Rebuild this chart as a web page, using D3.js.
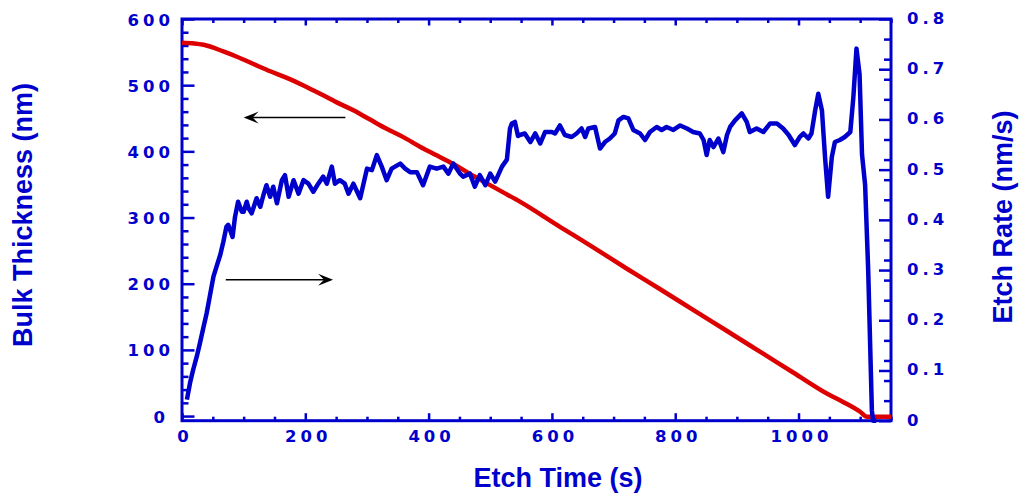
<!DOCTYPE html>
<html><head><meta charset="utf-8">
<script src="https://cdn.jsdelivr.net/npm/d3@7"></script>
<style>html,body{margin:0;padding:0;background:#fff;}svg{display:block;}</style>
</head><body>
<svg id="chart" width="1019" height="500"></svg>
<script>
// ---------- data ----------
const thicknessTime = [0,20,35,67,89,116,143,170,197,224,251,278,305,332,359,386,413,440,467,494,521,548,613,667,721,775,829,884,938,992,1046,1073,1100,1111,1150];
const thicknessNm   = [564,563,561,551,543,532,521,511,499.5,487,474,462,448,434,421.5,407,394,381,366,352,338,324,286,255,223,192,160.5,128.5,97,65.5,34,21,6.5,-1,-1];

const rateTime = [8,13,18,24,29,35,40,45,51,56,62,67,72,75,78,82,86,91,97,100,105,108,113,121,127,132,137,143,148,154,162,167,173,181,189,197,205,213,221,229,235,243,248,256,264,270,278,289,300,308,316,324,332,340,354,362,370,381,391,402,413,424,432,440,451,456,467,475,483,492,500,508,519,527,532,535,540,545,548,556,565,573,581,589,600,605,613,621,632,640,648,654,659,670,678,686,694,702,708,716,724,732,743,751,759,770,778,786,797,808,819,829,840,846,851,856,862,870,878,884,889,897,908,916,921,932,943,954,965,975,984,994,1002,1008,1016,1021,1027,1032,1038,1043,1048,1054,1059,1067,1075,1084,1089,1094,1099,1103,1108,1113,1119,1121,1126];
const rateNmS = [0.042,0.075,0.101,0.128,0.154,0.187,0.214,0.247,0.287,0.307,0.330,0.356,0.386,0.390,0.380,0.366,0.406,0.436,0.416,0.416,0.436,0.423,0.413,0.443,0.426,0.449,0.469,0.446,0.466,0.433,0.479,0.489,0.446,0.479,0.452,0.479,0.472,0.456,0.472,0.486,0.472,0.506,0.472,0.479,0.472,0.452,0.472,0.443,0.502,0.499,0.529,0.506,0.479,0.502,0.512,0.502,0.495,0.495,0.469,0.506,0.502,0.506,0.492,0.512,0.492,0.486,0.492,0.466,0.489,0.469,0.492,0.476,0.506,0.520,0.582,0.592,0.595,0.567,0.569,0.572,0.555,0.572,0.552,0.575,0.575,0.572,0.588,0.569,0.565,0.572,0.582,0.565,0.582,0.585,0.542,0.555,0.562,0.572,0.598,0.605,0.602,0.579,0.572,0.559,0.575,0.585,0.579,0.585,0.579,0.588,0.582,0.575,0.572,0.559,0.529,0.559,0.545,0.562,0.535,0.569,0.585,0.598,0.612,0.595,0.575,0.582,0.575,0.592,0.592,0.582,0.569,0.549,0.565,0.572,0.562,0.572,0.618,0.651,0.618,0.525,0.446,0.525,0.555,0.559,0.565,0.575,0.645,0.741,0.690,0.530,0.470,0.300,0.020,0.0,0.0];

const xTickLabels = ["0","200","400","600","800","1000"];
const yLeftTickLabels = ["0","100","200","300","400","500","600"];
const yRightTickLabels = ["0","0.1","0.2","0.3","0.4","0.5","0.6","0.7","0.8"];

// annotation arrows in (time, thickness) units: from -> to (arrowhead at "to")
const arrowFrom = [[265,451],[71,206]];
const arrowTo   = [[100,451],[245,206]];

// ---------- layout ----------
const BLUE = "#0000CC", RED = "#DD0000";
const L = 182, R = 891, T = 19, B = 420.7;
const svg = d3.select("#chart");

const x  = d3.scaleLinear().domain([0,1150]).range([L,R]);
const yL = d3.scaleLinear().domain([-7,600]).range([B,T]);
const yR = d3.scaleLinear().domain([0,0.8]).range([B,T]);

// ---------- ticks ----------
function axisTicks(axisGen, transform, size, vals){
  const g = svg.append("g").attr("transform",transform)
    .call(axisGen.tickValues(vals).tickSize(size).tickSizeOuter(0).tickFormat(""));
  g.select(".domain").remove();
  g.selectAll("line").attr("stroke",BLUE).attr("stroke-width",2.5);
}
const xMinor = d3.range(0,1151,50).filter(v=>v%200!==0);
const xMajor = d3.range(0,1151,200);
axisTicks(d3.axisBottom(x), `translate(0,${B})`, -4, xMinor);
axisTicks(d3.axisBottom(x), `translate(0,${B})`, -7.5, xMajor);
axisTicks(d3.axisTop(x), `translate(0,${T})`, -4, xMinor);
axisTicks(d3.axisTop(x), `translate(0,${T})`, -6.5, xMajor);
const yLMinor = d3.range(0,601,20).filter(v=>v%100!==0);
const yLMajor = d3.range(0,601,100);
axisTicks(d3.axisLeft(yL), `translate(${L},0)`, -6.5, yLMinor);
axisTicks(d3.axisLeft(yL), `translate(${L},0)`, -12.5, yLMajor);
const yRMinor = d3.range(0,41,2).filter(v=>v%5!==0).map(v=>v/50);
const yRMajor = d3.range(0,9).map(v=>v/10);
axisTicks(d3.axisRight(yR), `translate(${R},0)`, -7, yRMinor);
axisTicks(d3.axisRight(yR), `translate(${R},0)`, -12, yRMajor);

// ---------- frame ----------
svg.append("rect").attr("x",L).attr("y",T).attr("width",R-L).attr("height",B-T)
  .attr("fill","none").attr("stroke",BLUE).attr("stroke-width",3);

// ---------- tick labels (wide, letter-spaced bold digits) ----------
const FS = 16.5, LS = 4;
function labelWidth(s){
  let w = 0;
  for (const ch of s) w += (ch === "." ? 0.38 : 0.696)*FS + LS;
  return (w - LS);
}
function drawLabel(s, px, py, align){
  const w = labelWidth(s);
  const x0 = align==="end" ? px - w : align==="middle" ? px - w/2 : px;
  svg.append("text").attr("x",x0).attr("y",py)
    .attr("font-family","'DejaVu Sans', Verdana, sans-serif")
    .attr("font-weight","bold").attr("font-size",FS).attr("letter-spacing",LS)
    .attr("fill",BLUE).text(s);
}
yLeftTickLabels.forEach(s => drawLabel(s, s==="0" ? 165 : 170, yL(+s)+6.5, "end"));
xTickLabels.forEach(s => drawLabel(s, x(+s)+1, 442, "middle"));
yRightTickLabels.forEach(s => drawLabel(s, 907, yR(+s)+5, "start"));

// ---------- axis titles ----------
function title(txt, tr){
  svg.append("text").attr("transform",tr).attr("text-anchor","middle")
    .attr("font-family","'Liberation Sans', Arial, Helvetica, sans-serif")
    .attr("font-weight","bold").attr("font-size",27).attr("fill",BLUE).text(txt);
}
title("Etch Time (s)", `translate(558,487.3)`);
title("Bulk Thickness (nm)", `translate(31.7,215) rotate(-90)`);
title("Etch Rate (nm/s)", `translate(1011.7,217) rotate(-90)`);

// ---------- series ----------
const thick = thicknessTime.map((t,i)=>[t,thicknessNm[i]]);
const rate  = rateTime.map((t,i)=>[t,rateNmS[i]]);
svg.append("path").datum(thick)
  .attr("d", d3.line().curve(d3.curveMonotoneX).x(d=>x(d[0])).y(d=>yL(d[1])))
  .attr("fill","none").attr("stroke",RED).attr("stroke-width",4.5).attr("stroke-linejoin","round");
svg.append("path").datum(rate)
  .attr("d", d3.line().x(d=>x(d[0])).y(d=>yR(d[1])))
  .attr("fill","none").attr("stroke",BLUE).attr("stroke-width",4.5).attr("stroke-linejoin","round");

// ---------- arrows ----------
arrowFrom.forEach((f,i)=>{
  const t = arrowTo[i];
  const x1 = x(f[0]), y1 = yL(f[1]), x2 = x(t[0]), y2 = yL(t[1]);
  const dir = Math.sign(x2-x1);
  svg.append("line").attr("x1",x1).attr("y1",y1).attr("x2",x2 - dir*9).attr("y2",y2)
    .attr("stroke","#000").attr("stroke-width",1.5);
  svg.append("path")
    .attr("d",`M${x2},${y2} L${x2-dir*15},${y2-6} L${x2-dir*9},${y2} L${x2-dir*15},${y2+6} Z`)
    .attr("fill","#000");
});
</script>
</body></html>
